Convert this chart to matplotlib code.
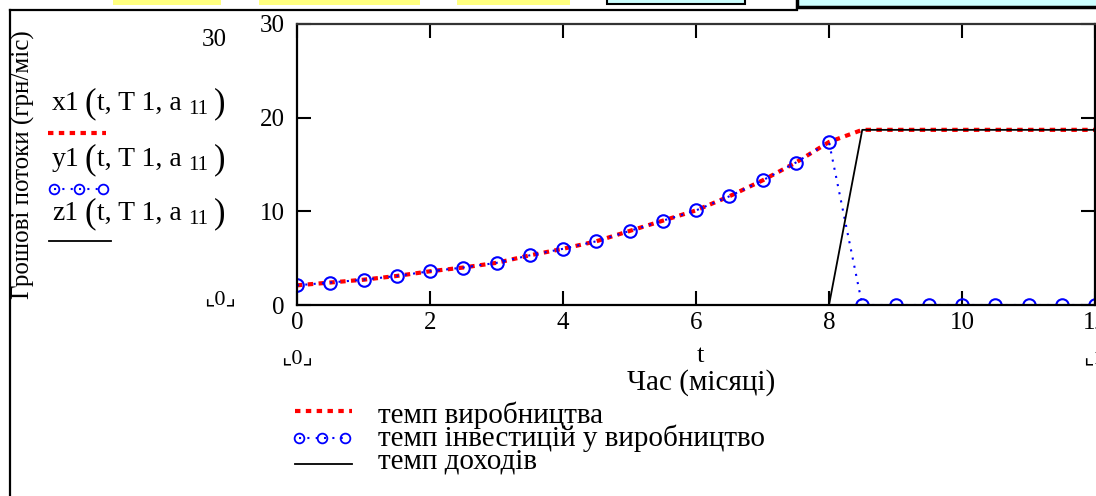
import numpy as np
import matplotlib
matplotlib.use("Agg")
import matplotlib.pyplot as plt
from matplotlib.lines import Line2D
from matplotlib.patches import Rectangle
from matplotlib.transforms import Affine2D

plt.rcParams['font.family'] = ['Liberation Serif', 'DejaVu Sans']

# час, місяці (крок 0.5)
t = [0, 0.5, 1, 1.5, 2, 2.5, 3, 3.5, 4, 4.5, 5, 5.5, 6, 6.5, 7, 7.5, 8,
     8.5, 9, 9.5, 10, 10.5, 11, 11.5, 12]
# темп виробництва
x1 = [2.1, 2.4, 2.7, 3.1, 3.6, 4.0, 4.5, 5.3, 6.0, 6.8, 7.9, 9.0, 10.1,
      11.6, 13.3, 15.2, 17.4, 18.7, 18.7, 18.7, 18.7, 18.7, 18.7, 18.7, 18.7]
# темп інвестицій у виробництво
y1 = [2.1, 2.4, 2.7, 3.1, 3.6, 4.0, 4.5, 5.3, 6.0, 6.8, 7.9, 9.0, 10.1,
      11.6, 13.3, 15.2, 17.4, 0, 0, 0, 0, 0, 0, 0, 0]
# темп доходів = виробництво - інвестиції
z1 = list(np.array(x1) - np.array(y1))

xticks = [0, 2, 4, 6, 8, 10, 12]
yticks = [0, 10, 20, 30]
legend_labels = ["темп виробництва", "темп інвестицій у виробництво", "темп доходів"]
trace_names = ["x1", "y1", "z1"]

W, H = 1096, 496
fig = plt.figure(figsize=(W / 100, H / 100), dpi=100)
px = Affine2D().scale(1 / W, -1 / H).translate(0, 1) + fig.transFigure

red_style = dict(color='red', lw=3, linestyle=(0, (1.3, 1.3)))
blue_style = dict(color='blue', lw=1.5, linestyle=(0, (1, 3)), marker='o',
                  markersize=9, mfc='none', mec='blue', mew=1.5)
black_style = dict(color='black', lw=1.3)

ax = fig.add_axes([297 / W, 1 - 305 / H, 798 / W, 281 / H])
ax.plot(t, x1, **red_style)
ax.plot(t, y1, **blue_style)
ax.plot(t, z1, **black_style)
ax.set_xlim(0, 12)
ax.set_ylim(0, 30)
ax.set_xticks(xticks)
ax.set_yticks(yticks)
ax.tick_params(direction='in', length=10, width=1.5, top=True, right=True,
               labelsize=18)
ax.tick_params(axis='x', pad=5)
ax.tick_params(axis='y', pad=9)
ax.spines['top'].set_color('#333333')
for s in ax.spines.values():
    s.set_linewidth(1.6)

# осі та підписи
fig.text(23, 165, "Грошові потоки (грн/міс)", transform=px, rotation=90,
         ha='center', va='center', fontsize=18)
fig.text(227, 40, "30", transform=px, ha='right', va='center', fontsize=18)
fig.text(220, 300, "⌞0⌟", transform=px, ha='center', va='center', fontsize=16)
fig.text(297, 359, "⌞0⌟", transform=px, ha='center', va='center', fontsize=16)
fig.text(700, 356, "t", transform=px, ha='center', va='center', fontsize=19)
fig.text(1083, 359, "⌞12", transform=px, ha='left', va='center', fontsize=16)
fig.text(701, 383, "Час (місяці)", transform=px, ha='center', va='center',
         fontsize=21)

# підписи трас зліва: x1(t, T 1, a 11)
for name, yy in zip(trace_names, [103, 159, 213]):
    fig.text(52, yy + 7, name, transform=px, ha='left', va='baseline', fontsize=20)
    fig.text(85, yy + 1, "(", transform=px, ha='left', va='center', fontsize=25)
    fig.text(97, yy + 7, "t, T 1, a", transform=px, ha='left', va='baseline',
             fontsize=20)
    fig.text(188, yy + 11, "11", transform=px, ha='left', va='baseline',
             fontsize=15)
    fig.text(214, yy + 1, ")", transform=px, ha='left', va='center', fontsize=25)
fig.add_artist(Line2D([48, 106], [133, 133], transform=px, **red_style))
fig.add_artist(Line2D([54, 79, 103], [189, 189, 189], transform=px,
                      **dict(blue_style, markersize=7, mew=1.3)))
fig.add_artist(Line2D([49, 111], [241, 241], transform=px, **black_style))

# легенда внизу
rows = [411, 438, 464]
fig.add_artist(Line2D([295, 352], [rows[0], rows[0]], transform=px, **red_style))
fig.add_artist(Line2D([299, 322, 345], [rows[1]] * 3, transform=px,
                      **dict(blue_style, markersize=7, mew=1.3)))
fig.add_artist(Line2D([295, 352], [rows[2], rows[2]], transform=px, **black_style))
fig.text(378, rows[1], "\n".join(legend_labels), transform=px, ha='left',
         va='center', fontsize=21, linespacing=0.8)

# рамка та обрізані елементи зверху
fig.add_artist(Line2D([10, 10], [10, 496], transform=px, color='black', lw=1.6))
fig.add_artist(Line2D([10, 797], [10, 10], transform=px, color='black', lw=1.6))
for x0, x1_ in [(113, 221), (259, 420), (457, 570)]:
    fig.add_artist(Rectangle((x0, -2), x1_ - x0, 7, transform=px,
                             facecolor='#ffff80', edgecolor='none'))
fig.add_artist(Rectangle((607, -3), 138, 7, transform=px, facecolor='#ccffff',
                         edgecolor='black', lw=1.5))
fig.add_artist(Rectangle((797, -3), 310, 10, transform=px, facecolor='#ccffff',
                         edgecolor='black', lw=2.5))

fig.savefig("out.png", dpi=100)
